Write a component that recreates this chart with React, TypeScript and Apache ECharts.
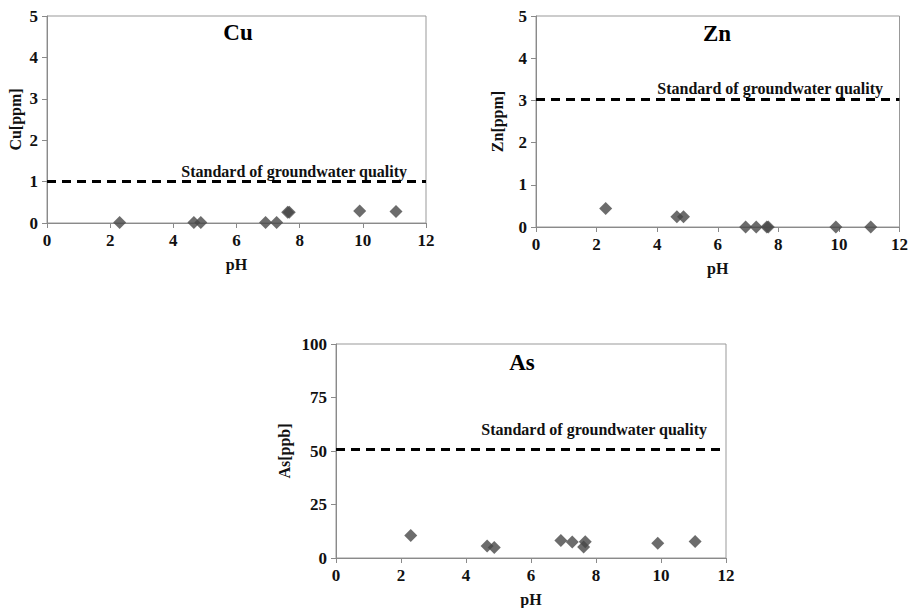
import React, { useEffect, useRef } from "react";
import * as echarts from "echarts";

const pH = [2.3, 4.65, 4.87, 6.92, 7.27, 7.62, 7.67, 9.9, 11.05];
const cuValues = [0.01, 0.01, 0.01, 0.01, 0.01, 0.26, 0.26, 0.29, 0.28];
const znValues = [0.44, 0.24, 0.24, 0.0, 0.0, 0.0, 0.0, 0.0, 0.0];
const asValues = [10.5, 5.6, 4.9, 8.2, 7.5, 5.1, 7.6, 6.9, 7.7];

const cuStandard = 1.0;
const znStandard = 3.03;
const asStandard = 51;

const xTicks = { min: 0, max: 12, interval: 2 };
const ppmTicks = { min: 0, max: 5, interval: 1 };
const ppbTicks = { min: 0, max: 100, interval: 25 };

const titles = ["Cu", "Zn", "As"];
const yNames = ["Cu[ppm]", "Zn[ppm]", "As[ppb]"];
const standardLabel = "Standard of groundwater quality";

const FONT = "'Liberation Serif', 'Times New Roman', serif";
const AXIS_GRAY = "#8a8a8a";
const MARK = "#474747";

export default function App() {
  const ref = useRef<HTMLDivElement>(null);

  useEffect(() => {
    if (!ref.current) return;
    const chart = echarts.init(ref.current, undefined, { renderer: "svg" });

    const grids = [
      { left: 47, top: 16, width: 379, height: 207 },
      { left: 536, top: 16, width: 367, height: 211 },
      { left: 336, top: 344, width: 390, height: 214 },
    ];

    const labelStyle = {
      fontFamily: FONT,
      fontWeight: "bold" as const,
      fontSize: 17,
      color: "#111",
    };

    const xAxes = grids.map((_, i) => ({
      type: "value" as const,
      gridIndex: i,
      min: xTicks.min,
      max: xTicks.max,
      interval: xTicks.interval,
      name: "pH",
      nameLocation: "middle" as const,
      nameGap: 33,
      nameTextStyle: { ...labelStyle, fontSize: 16 },
      axisLine: { show: true, lineStyle: { color: AXIS_GRAY, width: 1 } },
      axisTick: { show: true, length: 5, lineStyle: { color: AXIS_GRAY } },
      axisLabel: { ...labelStyle, margin: 9 },
      splitLine: { show: false },
    }));

    const yTickSets = [ppmTicks, ppmTicks, ppbTicks];
    const yNameGaps = [24, 31, 44];
    const yAxes = grids.map((_, i) => ({
      type: "value" as const,
      gridIndex: i,
      min: yTickSets[i].min,
      max: yTickSets[i].max,
      interval: yTickSets[i].interval,
      name: yNames[i],
      nameLocation: "middle" as const,
      nameGap: yNameGaps[i],
      nameRotate: 90,
      nameTextStyle: { ...labelStyle, fontSize: 16 },
      axisLine: { show: true, lineStyle: { color: AXIS_GRAY, width: 1 } },
      axisTick: { show: true, length: 5, lineStyle: { color: AXIS_GRAY } },
      axisLabel: { ...labelStyle, margin: 9 },
      splitLine: { show: false },
    }));

    const valueSets = [cuValues, znValues, asValues];
    const standards = [cuStandard, znStandard, asStandard];

    const series = valueSets.map((vals, i) => ({
      type: "scatter" as const,
      xAxisIndex: i,
      yAxisIndex: i,
      symbol: "diamond",
      symbolSize: [13, 13],
      itemStyle: { color: MARK },
      data: pH.map((p, k) => [p, vals[k]]),
      markLine: {
        silent: true,
        symbol: ["none", "none"],
        label: { show: false },
        lineStyle: { color: "#000", width: 3, type: [9, 6] },
        data: [{ yAxis: standards[i] }],
      },
      z: 3,
    }));

    const titlePos = [
      [238, 32],
      [717, 33],
      [522, 362],
    ];
    const stdPos = [
      [407, 171],
      [883, 88],
      [707, 429],
    ];

    const graphic: any[] = [];
    titles.forEach((t, i) => {
      graphic.push({
        type: "text",
        x: titlePos[i][0],
        y: titlePos[i][1],
        style: {
          text: t,
          fontFamily: FONT,
          fontWeight: "bold",
          fontSize: 23,
          fill: "#000",
          align: "center",
          verticalAlign: "middle",
        },
      });
      graphic.push({
        type: "text",
        x: stdPos[i][0],
        y: stdPos[i][1],
        style: {
          text: standardLabel,
          fontFamily: FONT,
          fontWeight: "bold",
          fontSize: 16,
          fill: "#111",
          align: "right",
          verticalAlign: "middle",
        },
      });
    });

    chart.setOption({
      animation: false,
      backgroundColor: "#fff",
      grid: grids.map((g) => ({
        ...g,
        show: true,
        borderColor: "#999",
        borderWidth: 1,
        containLabel: false,
      })),
      xAxis: xAxes,
      yAxis: yAxes,
      series,
      graphic,
    });

    return () => chart.dispose();
  }, []);

  return (
    <div
      ref={ref}
      style={{ position: "fixed", left: 0, top: 0, width: 911, height: 608 }}
    />
  );
}
